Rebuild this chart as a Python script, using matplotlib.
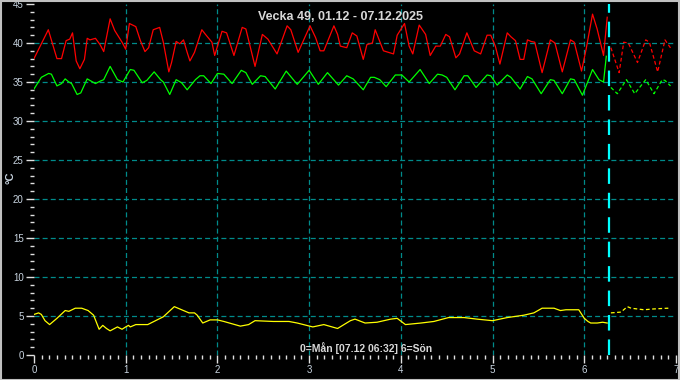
import matplotlib
matplotlib.use("Agg")
import matplotlib.pyplot as plt
from matplotlib.patches import Rectangle
import numpy as np

plt.rcParams['font.family'] = ['Liberation Sans', 'DejaVu Sans']

title = "Vecka 49, 01.12 - 07.12.2025"
footer = "0=Mån [07.12 06:32] 6=Sön"
ylabel = "°C"
now_day = 6.27

# Red series (current week, solid)
red_x = [0.0, 0.156, 0.25, 0.30, 0.35, 0.39, 0.42, 0.46, 0.50, 0.55, 0.58, 0.61, 0.67, 0.72, 0.76, 0.83,
         0.88, 0.96, 1.00, 1.04, 1.11, 1.16, 1.21, 1.25, 1.30, 1.37, 1.41, 1.47, 1.50, 1.55, 1.59, 1.63,
         1.67, 1.70, 1.75, 1.83, 1.87, 1.94, 1.97, 2.05, 2.10, 2.18, 2.27, 2.31, 2.41, 2.49, 2.55, 2.65,
         2.76, 2.80, 2.88, 2.96, 3.01, 3.07, 3.12, 3.16, 3.27, 3.31, 3.34, 3.41, 3.47, 3.52, 3.59, 3.63,
         3.69, 3.72, 3.81, 3.92, 3.96, 4.04, 4.09, 4.13, 4.20, 4.27, 4.32, 4.38, 4.43, 4.49, 4.53, 4.60,
         4.64, 4.72, 4.80, 4.87, 4.94, 4.98, 5.03, 5.08, 5.16, 5.20, 5.25, 5.30, 5.34, 5.38, 5.42, 5.46,
         5.54, 5.63, 5.68, 5.76, 5.85, 5.89, 5.97, 6.02, 6.09, 6.14, 6.21, 6.25]
red_y = [38.0, 41.7, 38.0, 38.0, 40.3, 40.5, 41.3, 37.7, 36.7, 37.9, 40.6, 40.4, 40.6, 39.8, 38.9, 43.1,
         41.6, 40.1, 39.2, 42.5, 42.1, 40.3, 38.9, 39.4, 41.7, 42.0, 40.1, 36.3, 37.5, 40.2, 39.9, 40.4,
         38.8, 37.7, 38.8, 41.7, 41.1, 40.1, 38.4, 41.5, 41.3, 38.4, 42.0, 41.8, 37.0, 41.1, 40.5, 38.6,
         42.2, 41.7, 38.8, 40.9, 42.2, 40.7, 39.0, 39.0, 42.2, 41.1, 39.6, 39.4, 41.3, 40.9, 37.9, 39.8,
         40.0, 41.7, 39.0, 38.6, 41.0, 42.5, 39.6, 38.6, 42.3, 41.1, 38.4, 39.6, 39.6, 41.1, 40.8, 38.1,
         38.6, 41.3, 39.0, 38.6, 41.0, 41.0, 39.6, 37.3, 41.3, 40.8, 40.3, 37.9, 37.9, 40.4, 40.2, 40.1,
         36.2, 40.4, 40.0, 36.3, 40.4, 40.1, 36.4, 39.2, 43.7, 41.8, 38.4, 43.3]

# Red series (previous week, dashed)
red_prev_x = [6.29, 6.38, 6.43, 6.48, 6.58, 6.67, 6.71, 6.80, 6.88, 6.95]
red_prev_y = [39.4, 36.2, 40.1, 40.0, 37.5, 40.4, 40.1, 36.3, 40.4, 39.2]

# Green series (current week, solid)
green_x = [0.0, 0.08, 0.16, 0.19, 0.25, 0.30, 0.34, 0.38, 0.41, 0.47, 0.51, 0.58, 0.67, 0.72, 0.76, 0.83,
           0.91, 0.97, 1.05, 1.09, 1.18, 1.23, 1.31, 1.38, 1.41, 1.48, 1.55, 1.61, 1.67, 1.76,
           1.81, 1.85, 1.93, 2.00, 2.07, 2.16, 2.26, 2.31, 2.38, 2.47, 2.52, 2.63, 2.75, 2.87, 3.00,
           3.10, 3.20, 3.32, 3.41, 3.48, 3.59, 3.67, 3.71, 3.77, 3.84, 3.94, 4.01, 4.09, 4.21, 4.31,
           4.40, 4.45, 4.50, 4.59, 4.69, 4.73, 4.82, 4.94, 4.98, 5.05, 5.16, 5.20, 5.30, 5.38, 5.43,
           5.53, 5.63, 5.67, 5.76, 5.85, 5.89, 5.98, 6.09, 6.16, 6.21, 6.24]
green_y = [34.1, 35.6, 36.1, 36.0, 34.5, 34.8, 35.4, 35.0, 34.8, 33.4, 33.6, 35.4, 34.8, 35.1, 35.3, 37.0,
           35.3, 35.0, 36.6, 36.5, 34.9, 35.2, 36.3, 35.3, 35.0, 33.4, 35.3, 34.9, 34.0, 35.3,
           35.8, 35.8, 34.8, 36.1, 36.0, 34.8, 36.5, 36.2, 34.7, 35.8, 35.7, 34.1, 36.4, 34.7, 36.5,
           34.7, 36.2, 34.6, 35.8, 35.4, 34.0, 35.6, 35.6, 35.3, 34.4, 35.9, 35.9, 35.0, 36.6, 34.8,
           36.0, 35.9, 35.6, 34.0, 35.8, 35.8, 34.3, 35.9, 35.8, 34.6, 35.9, 35.6, 34.1, 35.7, 35.4,
           33.5, 35.3, 35.2, 33.5, 35.4, 35.3, 33.3, 36.6, 35.3, 35.0, 38.3]

# Green series (previous week, dashed)
green_prev_x = [6.29, 6.36, 6.46, 6.55, 6.67, 6.76, 6.85, 6.88, 6.94]
green_prev_y = [34.3, 33.5, 35.3, 33.5, 35.3, 33.5, 35.3, 35.2, 34.5]

# Yellow series (current week, solid)
yellow_x = [0.0, 0.05, 0.08, 0.12, 0.17, 0.25, 0.34, 0.38, 0.45, 0.52, 0.59, 0.65, 0.71, 0.75, 0.79,
            0.83, 0.91, 0.96, 1.00, 1.03, 1.05, 1.11, 1.24, 1.41, 1.53, 1.63, 1.69, 1.75, 1.78, 1.84,
            1.92, 2.00, 2.07, 2.25, 2.34, 2.41, 2.61, 2.78, 2.87, 3.04, 3.16, 3.31, 3.45, 3.50, 3.61,
            3.74, 3.89, 3.96, 4.05, 4.22, 4.36, 4.52, 4.69, 4.83, 5.00, 5.16, 5.34, 5.45, 5.54, 5.67,
            5.74, 5.80, 5.94, 6.00, 6.04, 6.07, 6.14, 6.20, 6.25]
yellow_y = [5.2, 5.4, 5.2, 4.4, 3.9, 4.7, 5.7, 5.6, 6.0, 6.0, 5.7, 5.1, 3.3, 3.8, 3.4,
            3.1, 3.6, 3.3, 3.6, 3.8, 3.6, 3.9, 3.9, 4.9, 6.2, 5.7, 5.4, 5.4, 5.1, 4.1,
            4.5, 4.5, 4.3, 3.7, 3.9, 4.4, 4.3, 4.3, 4.1, 3.6, 3.9, 3.4, 4.4, 4.6, 4.1,
            4.2, 4.6, 4.7, 3.9, 4.1, 4.3, 4.8, 4.8, 4.6, 4.4, 4.8, 5.1, 5.4, 6.0, 6.0,
            5.7, 5.8, 5.8, 4.7, 4.3, 4.1, 4.1, 4.2, 4.1]

# Yellow series (previous week, dashed)
yellow_prev_x = [6.29, 6.40, 6.47, 6.51, 6.65, 6.75, 6.91, 6.94]
yellow_prev_y = [5.4, 5.5, 6.2, 6.0, 5.8, 5.9, 6.0, 5.8]

x_major = list(range(0, 8))
y_major = list(range(0, 50, 5))

fig = plt.figure(figsize=(6.8, 3.8), dpi=100, facecolor='black')
ax = fig.add_axes([34/680, 25/380, 642/680, 351/380])
ax.set_facecolor('black')
ax.set_xlim(0, 7)
ax.set_ylim(0, 45)

grid_col = '#008b8b'
for yv in y_major[1:-1]:
    ax.axhline(yv, color=grid_col, lw=0.9, ls=(0, (4, 2.5)), zorder=1)
for xv in x_major[1:-1]:
    ax.axvline(xv, color=grid_col, lw=0.9, ls=(0, (4, 2.5)), zorder=1)

lw = 0.9
ax.plot(red_x, red_y, color='#ff0000', lw=lw, zorder=3)
ax.plot(red_prev_x, red_prev_y, color='#ff0000', lw=lw, ls=(0, (3, 2)), zorder=3)
ax.plot(green_x, green_y, color='#00ff00', lw=lw, zorder=3)
ax.plot(green_prev_x, green_prev_y, color='#00ff00', lw=lw, ls=(0, (3, 2)), zorder=3)
ax.plot(yellow_x, yellow_y, color='#ffff00', lw=lw, zorder=3)
ax.plot(yellow_prev_x, yellow_prev_y, color='#ffff00', lw=lw, ls=(0, (3, 2)), zorder=3)

ax.axvline(now_day, color='#00ffff', lw=1.6, ls=(0, (7, 4)), zorder=4)

for s in ax.spines.values():
    s.set_visible(False)

lab_col = '#c8d4e0'
ax.set_xticks(x_major)
ax.set_xticks(np.arange(0, 7.001, 1/12), minor=True)
ax.set_yticks(y_major)
ax.set_yticks(np.arange(0, 45.001, 1), minor=True)
ax.tick_params(axis='both', which='major', colors='#e0e0e0', length=6, width=1,
               labelsize=7, labelcolor=lab_col, pad=1.5)
ax.tick_params(axis='both', which='minor', colors='#e0e0e0', length=3, width=1)
ax.set_xticklabels([str(v) for v in x_major])
ax.set_yticklabels([str(v) for v in y_major])

fig.text(10/680, 1 - 178/380, ylabel, rotation=90, color=lab_col, fontsize=8,
         fontweight='bold', ha='center', va='center')
fig.text(340/680, 1 - 17/380, title, color='#d8d8d8', fontsize=9, fontweight='bold',
         ha='center', va='center')
fig.text(366/680, 1 - 348/380, footer, color='#d8d8d8', fontsize=7.5, fontweight='bold',
         ha='center', va='center')

fig.patches.append(Rectangle((0.5/680, 0.5/380), 678.5/680, 378.5/380, transform=fig.transFigure,
                             fill=False, edgecolor='#c0c0c0', lw=1.5, zorder=10))

fig.savefig('out.png', dpi=100, facecolor='black')
